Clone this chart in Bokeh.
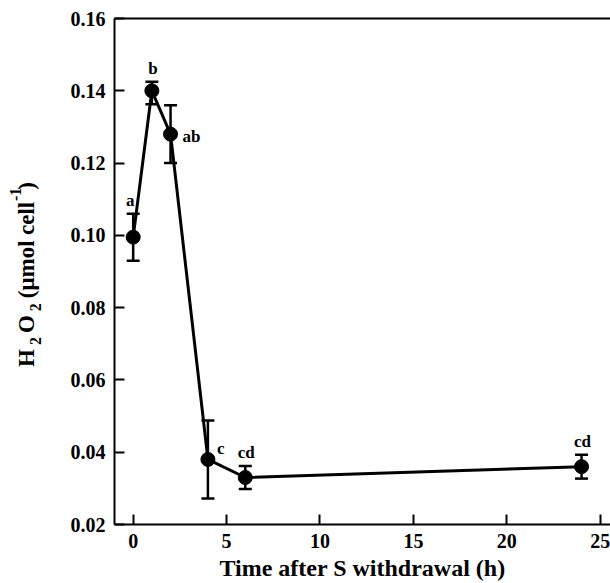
import math
from bokeh.plotting import figure
from bokeh.layouts import row
from bokeh.models import (Range1d, FixedTicker, PrintfTickFormatter, LinearAxis,
                          Label, Whisker, ColumnDataSource, TeeHead)
from bokeh.embed import file_html
from bokeh.resources import INLINE

# ---- data ----
time_h = [0, 1, 2, 4, 6, 24]
h2o2 = [0.0995, 0.140, 0.128, 0.038, 0.033, 0.036]
err_upper = [0.1060, 0.1425, 0.1360, 0.0488, 0.0362, 0.0393]
err_lower = [0.0930, 0.1363, 0.1200, 0.0272, 0.0298, 0.0327]
letters = ["a", "b", "ab", "c", "cd", "cd"]
x_ticks = [0, 5, 10, 15, 20, 25]
y_ticks = [0.02, 0.04, 0.06, 0.08, 0.10, 0.12, 0.14, 0.16]
x_title = "Time after S withdrawal (h)"

FONT = "Liberation Serif"
H = 583
LEFT_W = 50
FRAME_TOP, FRAME_BOTTOM = 18, 524

p = figure(width=610 - LEFT_W, height=H, x_range=Range1d(-1, 25.55), y_range=Range1d(0.02, 0.16),
           output_backend="svg", toolbar_location=None,
           min_border_left=114 - LEFT_W, min_border_right=0,
           min_border_top=FRAME_TOP, min_border_bottom=H - FRAME_BOTTOM)
p.outline_line_color = None
p.xgrid.grid_line_color = None
p.ygrid.grid_line_color = None
p.background_fill_color = "white"
p.border_fill_color = "white"

for ax in (p.xaxis[0], p.yaxis[0]):
    ax.axis_line_width = 2
    ax.axis_line_color = "black"
    ax.major_tick_in = 10
    ax.major_tick_out = 0
    ax.minor_tick_in = 0
    ax.minor_tick_out = 0
    ax.major_tick_line_width = 2
    ax.major_tick_line_color = "black"
    ax.major_label_text_font = FONT
    ax.major_label_text_font_style = "bold"
    ax.major_label_text_font_size = "20px"
    ax.major_label_text_color = "black"

p.xaxis[0].ticker = FixedTicker(ticks=x_ticks)
p.yaxis[0].ticker = FixedTicker(ticks=y_ticks)
p.yaxis[0].formatter = PrintfTickFormatter(format="%.2f")
p.xaxis[0].major_label_standoff = 9
p.yaxis[0].major_label_standoff = 9
p.xaxis[0].axis_label = x_title
p.xaxis[0].axis_label_text_font = FONT
p.xaxis[0].axis_label_text_font_style = "bold"
p.xaxis[0].axis_label_text_font_size = "24px"
p.xaxis[0].axis_label_text_color = "black"
p.xaxis[0].axis_label_standoff = 4

# top border line
top = LinearAxis(ticker=FixedTicker(ticks=[]), major_tick_in=0, major_tick_out=0,
                 minor_tick_in=0, minor_tick_out=0, axis_line_width=2,
                 axis_line_color="black", major_label_text_font_size="0px",
                 major_label_standoff=0)
p.add_layout(top, "above")

src = ColumnDataSource(dict(x=time_h, y=h2o2, upper=err_upper, lower=err_lower))

p.line("x", "y", source=src, line_width=3, line_color="black")
wh = Whisker(source=src, base="x", upper="upper", lower="lower",
             line_width=2.5, line_color="black",
             upper_head=TeeHead(size=13, line_width=2.5, line_color="black"),
             lower_head=TeeHead(size=13, line_width=2.5, line_color="black"))
p.add_layout(wh)
p.scatter("x", "y", source=src, size=14, fill_color="black", line_color="black")

# significance letters
for xi, yi, up, lab in zip(time_h, h2o2, err_upper, letters):
    if lab == "ab":
        L = Label(x=xi, y=yi, text=lab, x_offset=12, y_offset=-2, text_align="left")
    elif lab == "c":
        L = Label(x=xi, y=yi, text=lab, x_offset=9, y_offset=11, text_align="left")
    else:
        L = Label(x=xi, y=up, text=lab, x_offset=-3 if lab == "a" else 1, y_offset=13,
                  text_align="center")
    L.text_font = FONT
    L.text_font_style = "bold"
    L.text_font_size = "17px"
    L.text_baseline = "alphabetic"
    L.text_color = "black"
    p.add_layout(L)

# ---- y axis title (with sub/superscripts) in a narrow side figure ----
# its frame is aligned with the main frame, so map page pixels 1:1
lab_fig = figure(width=LEFT_W, height=H, x_range=Range1d(0, LEFT_W),
                 y_range=Range1d(H - FRAME_BOTTOM, H - FRAME_TOP),
                 output_backend="svg", toolbar_location=None,
                 x_axis_location=None, y_axis_location=None,
                 min_border_left=0, min_border_right=0,
                 min_border_top=FRAME_TOP, min_border_bottom=H - FRAME_BOTTOM)
lab_fig.outline_line_color = None
lab_fig.xgrid.grid_line_color = None
lab_fig.ygrid.grid_line_color = None
lab_fig.background_fill_color = "white"
lab_fig.border_fill_color = "white"

F, f = 23, 16
# text, font size, baseline shift (px, + = lower), advance width, gap after
pieces = [("H", F, 0, 0.778 * F, 4), ("2", f, 9, 0.5 * f, 4), ("O", F, 0, 0.778 * F, 4),
          ("2", f, 9, 0.5 * f, 5), (" (\u03bcmol", F, 0, 2.75 * F, 0),
          (" cell", F, 0, 1.694 * F, -5), ("-1", f, -11, 0.833 * f, -2), (")", F, 0, 0.333 * F, 0)]
total = sum(w + g for _, _, _, w, g in pieces)
center_y = 274               # vertical centre of the title, page px from top
baseline_x = 26
pos = H - (center_y + total / 2)
for txt, fs, shift, w, g in pieces:
    lab_fig.add_layout(Label(x=baseline_x + shift, y=pos, text=txt, angle=math.pi / 2,
                             text_align="left", text_baseline="alphabetic",
                             text_font=FONT, text_font_style="bold",
                             text_font_size=f"{fs}px", text_color="black"))
    pos += w + g

layout = row(lab_fig, p, spacing=0)
open("out.html", "w").write(file_html(layout, INLINE))
